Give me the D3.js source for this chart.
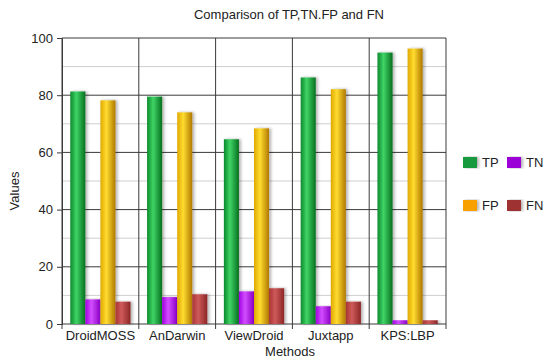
<!DOCTYPE html>
<html>
<head>
<meta charset="utf-8">
<script src="https://cdn.jsdelivr.net/npm/d3@7"></script>
<style>
  body { margin: 0; background: #fff; }
  text { font-family: "Liberation Sans", Arial, sans-serif; fill: #222; }
</style>
</head>
<body>
<svg id="chart" width="544" height="359"></svg>
<script>
// data
const methods = ['DroidMOSS', 'AnDarwin', 'ViewDroid', 'Juxtapp', 'KPS:LBP'];
const seriesNames = ['TP', 'TN', 'FP', 'FN'];
const tpValues = [81.3, 79.5, 64.6, 86.2, 94.9];
const tnValues = [8.6, 9.4, 11.4, 6.2, 1.3];
const fpValues = [78.2, 74.0, 68.4, 82.1, 96.3];
const fnValues = [7.8, 10.4, 12.5, 7.8, 1.3];
const yTicks = [0, 20, 40, 60, 80, 100];
const minorTicks = [10, 30, 50, 70, 90];

const margin = { left: 62, right: 98, top: 38, bottom: 35 };
const width = 544 - margin.left - margin.right;
const height = 359 - margin.top - margin.bottom;

const svg = d3.select('#chart');

// bar colours: [edge, centre, shadow edge]
const colors = {
  TP: ['#0b8a2c', '#3fd466', '#07701f'],
  TN: ['#a000e0', '#d24dff', '#8a00c4'],
  FP: ['#e0a800', '#ffdc30', '#b07800'],
  FN: ['#a83434', '#cf5a5a', '#8c2626']
};
const legendColors = { TP: '#139a3e', TN: '#9b00d6', FP: '#f7a000', FN: '#9e3232' };

const defs = svg.append('defs');
seriesNames.forEach(s => {
  const g = defs.append('linearGradient')
    .attr('id', 'grad' + s)
    .attr('x1', '0%').attr('x2', '100%').attr('y1', '0%').attr('y2', '0%');
  g.append('stop').attr('offset', '0%').attr('stop-color', colors[s][0]);
  g.append('stop').attr('offset', '40%').attr('stop-color', colors[s][1]);
  g.append('stop').attr('offset', '100%').attr('stop-color', colors[s][2]);
});
const shadow = defs.append('filter').attr('id', 'shadow')
  .attr('x', '-20%').attr('y', '-5%').attr('width', '160%').attr('height', '110%');
shadow.append('feDropShadow')
  .attr('dx', 2).attr('dy', 0).attr('stdDeviation', 1.5)
  .attr('flood-color', '#000').attr('flood-opacity', 0.3);

const table = methods.map((m, i) => ({
  method: m,
  TP: tpValues[i], TN: tnValues[i], FP: fpValues[i], FN: fnValues[i]
}));

const x = d3.scaleBand()
  .domain(methods)
  .range([margin.left, margin.left + width])
  .paddingInner(0)
  .paddingOuter(0);

const xInner = d3.scaleBand()
  .domain(seriesNames)
  .range([0, x.bandwidth()])
  .paddingOuter(0.55)
  .paddingInner(0);

const y = d3.scaleLinear()
  .domain([0, 100])
  .range([margin.top + height, margin.top]);

// minor grid
svg.append('g')
  .selectAll('line')
  .data(minorTicks)
  .enter()
  .append('line')
  .attr('x1', margin.left).attr('x2', margin.left + width)
  .attr('y1', d => y(d)).attr('y2', d => y(d))
  .attr('stroke', '#cfcfcf').attr('stroke-width', 1);

// major grid
svg.append('g')
  .selectAll('line')
  .data(yTicks)
  .enter()
  .append('line')
  .attr('x1', margin.left).attr('x2', margin.left + width)
  .attr('y1', d => y(d)).attr('y2', d => y(d))
  .attr('stroke', '#3a3a3a').attr('stroke-width', 1);

// vertical dividers between methods (plus both ends)
svg.append('g')
  .selectAll('line')
  .data(methods.concat(['end']))
  .enter()
  .append('line')
  .attr('x1', d => d === 'end' ? margin.left + width : x(d))
  .attr('x2', d => d === 'end' ? margin.left + width : x(d))
  .attr('y1', margin.top).attr('y2', margin.top + height + 5)
  .attr('stroke', '#3a3a3a').attr('stroke-width', 1);

// y axis
svg.append('g')
  .attr('transform', 'translate(' + margin.left + ',0)')
  .call(d3.axisLeft(y).tickValues(yTicks).tickSize(5).tickPadding(4))
  .call(g => g.select('.domain').attr('stroke', '#3a3a3a'))
  .call(g => g.selectAll('.tick line').attr('stroke', '#3a3a3a'))
  .call(g => g.selectAll('.tick text')
    .style('font-family', '"Liberation Sans", Arial, sans-serif')
    .style('font-size', '13px').attr('fill', '#222'));

// x axis labels
svg.append('g')
  .attr('transform', 'translate(0,' + (margin.top + height) + ')')
  .call(d3.axisBottom(x).tickSize(0).tickPadding(7))
  .call(g => g.select('.domain').remove())
  .call(g => g.selectAll('.tick text')
    .style('font-family', '"Liberation Sans", Arial, sans-serif')
    .style('font-size', '13px').attr('fill', '#222'));

// bars
const groups = svg.append('g')
  .selectAll('g')
  .data(table)
  .enter()
  .append('g')
  .attr('transform', d => 'translate(' + x(d.method) + ',0)');

groups.selectAll('rect')
  .data(d => seriesNames.map(s => ({ key: s, value: d[s] })))
  .enter()
  .append('rect')
  .attr('x', d => xInner(d.key))
  .attr('width', xInner.bandwidth())
  .attr('y', d => y(d.value))
  .attr('height', d => y(0) - y(d.value))
  .attr('fill', d => 'url(#grad' + d.key + ')')
  .attr('filter', 'url(#shadow)');

// title and axis titles
svg.append('text')
  .attr('x', 289).attr('y', 19)
  .attr('text-anchor', 'middle')
  .style('font-size', '13px')
  .text('Comparison of TP,TN.FP and FN');

svg.append('text')
  .attr('x', margin.left + width / 2 + 36).attr('y', 356)
  .attr('text-anchor', 'middle')
  .style('font-size', '13px')
  .text('Methods');

svg.append('text')
  .attr('transform', 'translate(19,' + (margin.top + height / 2 + 10) + ') rotate(-90)')
  .attr('text-anchor', 'middle')
  .style('font-size', '13px')
  .text('Values');

// legend, two per row
const legend = svg.append('g')
  .selectAll('g')
  .data(seriesNames)
  .enter()
  .append('g')
  .attr('transform', (d, i) => 'translate(' + (463 + (i % 2) * 44) + ',' + (157 + Math.floor(i / 2) * 43) + ')');

legend.append('rect')
  .attr('width', 14).attr('height', 11)
  .attr('fill', d => legendColors[d])
  .attr('filter', 'url(#shadow)');

legend.append('text')
  .attr('x', 19).attr('y', 10)
  .style('font-size', '13px')
  .text(d => d);
</script>
</body>
</html>
